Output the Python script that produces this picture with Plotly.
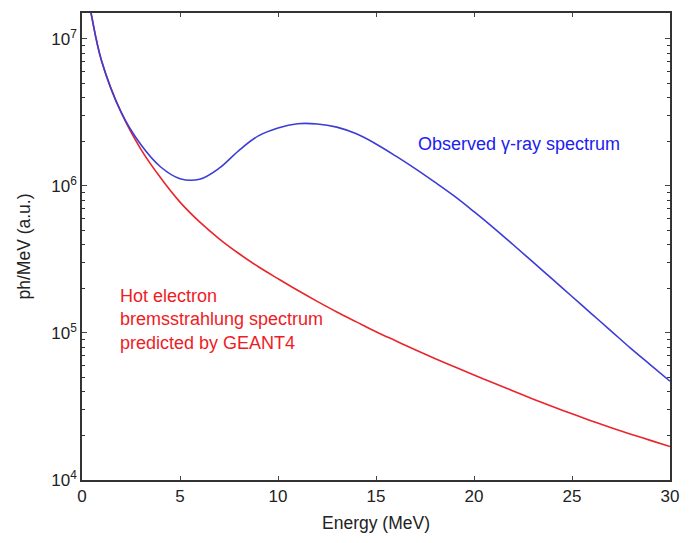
import plotly.graph_objects as go

# Observed gamma-ray spectrum (blue)
blue_x = [0.0, 0.5, 1.0, 2.0, 3.0, 4.0, 5.0, 6.0, 7.0, 8.0, 9.0, 10.0, 11.0, 12.0, 13.0,
          14.0, 15.0, 16.0, 17.0, 18.0, 19.0, 20.0, 21.0, 22.0, 23.0, 24.0, 25.0, 26.0,
          27.0, 28.0, 29.0, 30.0]
blue_y = [3.55e7, 1.41e7, 7.08e6, 3.16e6, 1.91e6, 1.35e6, 1.12e6, 1.11e6, 1.32e6, 1.74e6,
          2.19e6, 2.48e6, 2.65e6, 2.64e6, 2.51e6, 2.26e6, 1.93e6, 1.60e6, 1.31e6, 1.06e6,
          8.51e5, 6.68e5, 5.19e5, 3.98e5, 3.04e5, 2.32e5, 1.77e5, 1.35e5, 1.03e5, 7.85e4,
          6.07e4, 4.70e4]

# GEANT4 predicted bremsstrahlung spectrum (red)
red_x = [0.0, 0.5, 1.0, 2.0, 3.0, 4.0, 5.0, 6.0, 7.0, 8.0, 9.0, 10.0, 11.0, 12.0, 13.0,
         14.0, 15.0, 16.0, 17.0, 18.0, 19.0, 20.0, 21.0, 22.0, 23.0, 24.0, 25.0, 26.0,
         27.0, 28.0, 29.0, 30.0]
red_y = [3.55e7, 1.41e7, 7.08e6, 3.16e6, 1.78e6, 1.14e6, 7.76e5, 5.69e5, 4.37e5, 3.47e5,
         2.82e5, 2.34e5, 1.95e5, 1.64e5, 1.39e5, 1.19e5, 1.02e5, 8.85e4, 7.69e4, 6.71e4,
         5.89e4, 5.18e4, 4.56e4, 4.03e4, 3.56e4, 3.16e4, 2.82e4, 2.52e4, 2.27e4, 2.05e4,
         1.86e4, 1.69e4]

x_ticks = [0, 5, 10, 15, 20, 25, 30]
y_ticks = [1e4, 1e5, 1e6, 1e7]
y_tick_text = ["10<sup>4</sup>", "10<sup>5</sup>", "10<sup>6</sup>", "10<sup>7</sup>"]
y_minor = [m * 10 ** e for e in range(4, 8) for m in range(2, 10)]

FONT = "Liberation Sans, Arial, sans-serif"

fig = go.Figure()
fig.add_trace(go.Scatter(x=red_x, y=red_y, mode="lines",
                         line=dict(color="#e8262b", width=1.6, shape="spline", smoothing=1.0),
                         showlegend=False))
fig.add_trace(go.Scatter(x=blue_x, y=blue_y, mode="lines",
                         line=dict(color="#3c3cd6", width=1.6, shape="spline", smoothing=1.0),
                         showlegend=False))

fig.update_layout(
    width=690, height=543,
    margin=dict(l=82, r=17, t=11, b=63),
    paper_bgcolor="white", plot_bgcolor="white",
    font=dict(family=FONT, size=17, color="#222222"),
    xaxis=dict(range=[0, 30], tickvals=x_ticks, ticks="inside", ticklen=4,
               showline=True, linecolor="#333333", linewidth=1.5, mirror="ticks",
               showgrid=False, zeroline=False,
               title=dict(text="Energy (MeV)", standoff=12, font=dict(size=17.5)),
               tickfont=dict(size=17)),
    yaxis=dict(type="log", range=[4, 7.176], tickvals=y_ticks, ticktext=y_tick_text,
               ticks="inside", ticklen=5,
               minor=dict(tickvals=y_minor, ticks="inside", ticklen=3, tickcolor="#333333"),
               showline=True, linecolor="#333333", linewidth=1.5, mirror="ticks",
               showgrid=False, zeroline=False,
               title=dict(text="ph/MeV (a.u.)", standoff=16, font=dict(size=17.5)),
               tickfont=dict(size=17)),
)

fig.add_annotation(xref="paper", yref="paper", x=(418 - 82) / 591, y=(480 - 143) / 469,
                   xanchor="left", yanchor="middle", showarrow=False,
                   text="Observed \u03b3-ray spectrum",
                   font=dict(family=FONT, size=18, color="#2020f0"))
fig.add_annotation(xref="paper", yref="paper", x=(118 - 82) / 591, y=(480 - 319) / 469,
                   xanchor="left", yanchor="middle", showarrow=False, align="left",
                   text="Hot electron<br>bremsstrahlung spectrum<br>predicted by GEANT4",
                   font=dict(family=FONT, size=18, color="#ee1c24"))

fig.write_html("out.html")
